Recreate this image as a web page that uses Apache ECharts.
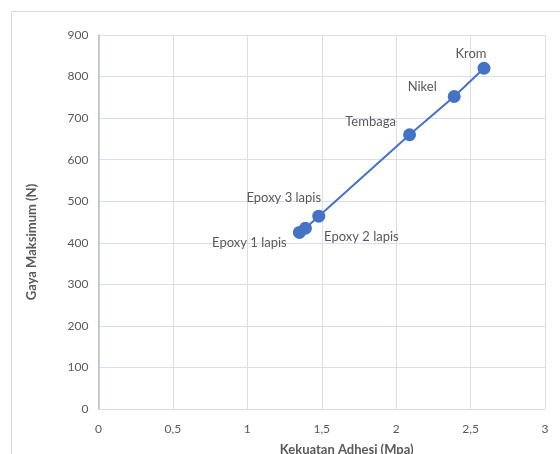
<!DOCTYPE html>
<html>
<head>
<meta charset="utf-8">
<script src="https://cdn.jsdelivr.net/npm/echarts@6/dist/echarts.min.js"></script>
<style>
  html, body { margin: 0; padding: 0; background: #fff; }
  #chart { width: 560px; height: 454px; }
</style>
</head>
<body>
<div id="chart"></div>
<script>
// Material names, adhesion strength (MPa) and maximum force (N)
const materials = ['Epoxy 1 lapis', 'Epoxy 2 lapis', 'Epoxy 3 lapis', 'Tembaga', 'Nikel', 'Krom'];
const adhesion = [1.35, 1.39, 1.48, 2.09, 2.39, 2.59];
const maxForce = [425, 435, 464, 660, 752, 820];

// Label offsets (px) relative to each marker centre
const labelOffsets = [[-50, 10], [56, 9], [-35, -18], [-39, -13], [-32, -10], [-13, -14]];

const FONT = 'Lato';
const TXT = '#595959';

const seriesData = materials.map((m, i) => ({
  value: [adhesion[i], maxForce[i]],
  name: m,
  label: { offset: labelOffsets[i] }
}));

const chart = echarts.init(document.getElementById('chart'), null, { renderer: 'canvas' });
chart.setOption({
  animation: false,
  backgroundColor: '#fff',
  textStyle: { fontFamily: FONT },
  graphic: [{
    type: 'rect',
    shape: { x: 11.5, y: 11.5, width: 700, height: 600 },
    style: { fill: 'none', stroke: '#D9D9D9', lineWidth: 1 },
    silent: true
  }],
  grid: { left: 98.5, right: 15, top: 35, bottom: 45, containLabel: false, outerBoundsMode: 'none' },
  xAxis: {
    type: 'value', min: 0, max: 3, interval: 0.5,
    name: 'Kekuatan Adhesi (Mpa)', nameLocation: 'middle', nameGap: 34,
    nameTextStyle: { color: TXT, fontSize: 13, fontWeight: 'bold', fontFamily: FONT, padding: [0, 0, 0, 50] },
    axisLine: { show: true, lineStyle: { color: '#D9DEE8', width: 1 } },
    axisTick: { show: false },
    axisLabel: { color: TXT, fontSize: 12, fontFamily: FONT, margin: 14,
      formatter: v => String(v).replace('.', ',') },
    splitLine: { show: true, lineStyle: { color: '#D9DEE8', width: 1 } }
  },
  yAxis: {
    type: 'value', min: 0, max: 900, interval: 100,
    name: 'Gaya Maksimum (N)', nameLocation: 'middle', nameGap: 60, nameRotate: 90,
    nameTextStyle: { color: TXT, fontSize: 13, fontWeight: 'bold', fontFamily: FONT, padding: [0, 40, 0, 0] },
    axisLine: { show: true, lineStyle: { color: '#B4BCD0', width: 1.5 } },
    axisTick: { show: false },
    axisLabel: { color: TXT, fontSize: 12, fontFamily: FONT, margin: 10 },
    splitLine: { show: true, lineStyle: { color: '#D9DEE8', width: 1 } }
  },
  series: [{
    type: 'line',
    data: seriesData,
    symbol: 'circle',
    symbolSize: 13,
    itemStyle: { color: '#4472C4' },
    lineStyle: { color: '#4472C4', width: 2 },
    label: {
      show: true, position: 'inside',
      formatter: p => p.name,
      color: TXT, fontSize: 13, fontFamily: FONT
    }
  }]
});
</script>
</body>
</html>
